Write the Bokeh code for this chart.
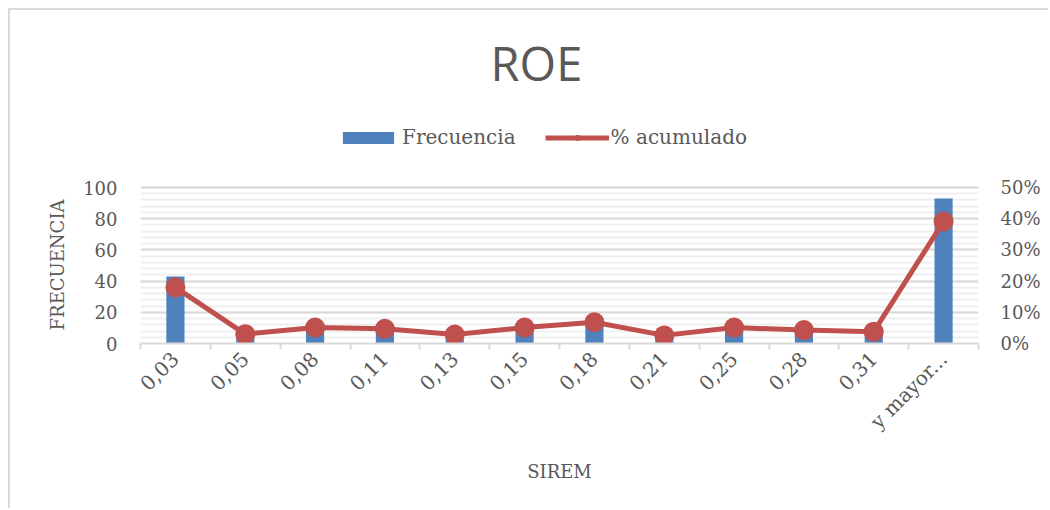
import math
from bokeh.plotting import figure
from bokeh.models import (ColumnDataSource, Range1d, LinearAxis, FixedTicker, Legend, LegendItem,
                          Label, PrintfTickFormatter)
from bokeh.embed import file_html
from bokeh.resources import INLINE

categories = ["0,03", "0,05", "0,08", "0,11", "0,13", "0,15", "0,18", "0,21", "0,25", "0,28", "0,31", "y mayor..."]
frecuencia = [43, 7, 12, 11, 7, 12, 16, 6, 12, 10, 9, 93]
pct_acumulado = [18.0, 3.0, 5.1, 4.7, 2.9, 5.1, 6.8, 2.6, 5.1, 4.3, 3.8, 39.1]
left_ticks = [0, 20, 40, 60, 80, 100]
right_ticks = [0, 10, 20, 30, 40, 50]

xpos = [i + 0.5 for i in range(len(categories))]
src = ColumnDataSource(dict(x=xpos, f=frecuencia, p=pct_acumulado))

SERIF = "DejaVu Serif"
GREY = "#595959"

# frame: 838 x 323 px; 100 units of frequency = 156 px
Y_TOP = 100 * 323 / 156
p = figure(width=1040, height=500, output_backend="svg", toolbar_location=None, title=None,
           x_range=Range1d(0, len(categories)), y_range=Range1d(0, Y_TOP),
           min_border_left=130, min_border_right=72, min_border_top=10, min_border_bottom=167)
p.styles = {"margin-left": "8px", "margin-top": "8px",
            "border-left": "2px solid #d9d9d9", "border-top": "2px solid #d9d9d9"}
p.outline_line_color = None
p.extra_y_ranges = {"pct": Range1d(0, Y_TOP / 2)}

bars = p.vbar(x="x", top="f", width=0.26, source=src, fill_color="#4F81BD", line_color=None)
line = p.line(x="x", y="p", source=src, y_range_name="pct", line_color="#C0504D", line_width=5)
pts = p.scatter(x="x", y="p", source=src, y_range_name="pct", size=20, fill_color="#C0504D", line_color=None)

# x axis
xa = p.xaxis[0]
xa.ticker = FixedTicker(ticks=xpos, minor_ticks=list(range(0, len(categories) + 1)))
xa.major_label_overrides = {x: c for x, c in zip(xpos, categories)}
xa.major_tick_line_color = None
xa.minor_tick_line_color = "#d9d9d9"
xa.minor_tick_line_width = 2
xa.minor_tick_out = 6
xa.minor_tick_in = 0
xa.axis_line_color = "#d9d9d9"
xa.axis_line_width = 2
xa.major_label_orientation = math.pi / 4
xa.major_label_text_font = SERIF
xa.major_label_text_font_size = "20px"
xa.major_label_text_color = GREY
xa.major_label_standoff = 6
xa.axis_label = "SIREM"
xa.axis_label_text_font = SERIF
xa.axis_label_text_font_size = "18px"
xa.axis_label_text_font_style = "normal"
xa.axis_label_text_color = GREY
xa.axis_label_standoff = 16

# left axis (label padded at its end with no-break spaces so it centres on the 0-100 span)
ya = p.yaxis[0]
ya.bounds = (0, 100)
ya.ticker = FixedTicker(ticks=left_ticks, minor_ticks=list(range(0, 101, 4)))
ya.axis_line_color = None
ya.major_tick_line_color = None
ya.minor_tick_line_color = None
ya.major_label_text_font = SERIF
ya.major_label_text_font_size = "18px"
ya.major_label_text_color = GREY
ya.major_label_standoff = 17
ya.axis_label = "FRECUENCIA" + "\u00a0" * 29
ya.axis_label_text_font = SERIF
ya.axis_label_text_font_size = "18px"
ya.axis_label_text_font_style = "normal"
ya.axis_label_text_color = GREY
ya.axis_label_standoff = 12

# right axis
ra = LinearAxis(y_range_name="pct", ticker=FixedTicker(ticks=right_ticks),
                formatter=PrintfTickFormatter(format="%d%%"))
ra.axis_line_color = None
ra.major_tick_line_color = None
ra.minor_tick_line_color = None
ra.major_label_text_font = SERIF
ra.major_label_text_font_size = "18px"
ra.major_label_text_color = GREY
ra.major_label_standoff = 16
p.add_layout(ra, "right")

p.xgrid.grid_line_color = None
p.ygrid.grid_line_color = "#d9d9d9"
p.ygrid.grid_line_width = 2
p.ygrid.minor_grid_line_color = "#efefef"
p.ygrid.minor_grid_line_width = 2

legend = Legend(items=[LegendItem(label="Frecuencia", renderers=[bars]),
                       LegendItem(label="% acumulado", renderers=[line, pts])],
                orientation="horizontal", location=(196, 194),
                glyph_width=64, glyph_height=15, spacing=29, label_standoff=2,
                label_text_font=SERIF, label_text_font_size="20px", label_text_color=GREY,
                border_line_color=None, background_fill_alpha=0, margin=0, padding=0)
p.add_layout(legend, "center")

# chart title
p.add_layout(Label(x=5.67, y=180.0, text="ROE", text_align="center", text_baseline="alphabetic",
                   text_font="Open Sans", text_font_size="47px", text_color=GREY))

open("out.html", "w").write(file_html(p, INLINE))
